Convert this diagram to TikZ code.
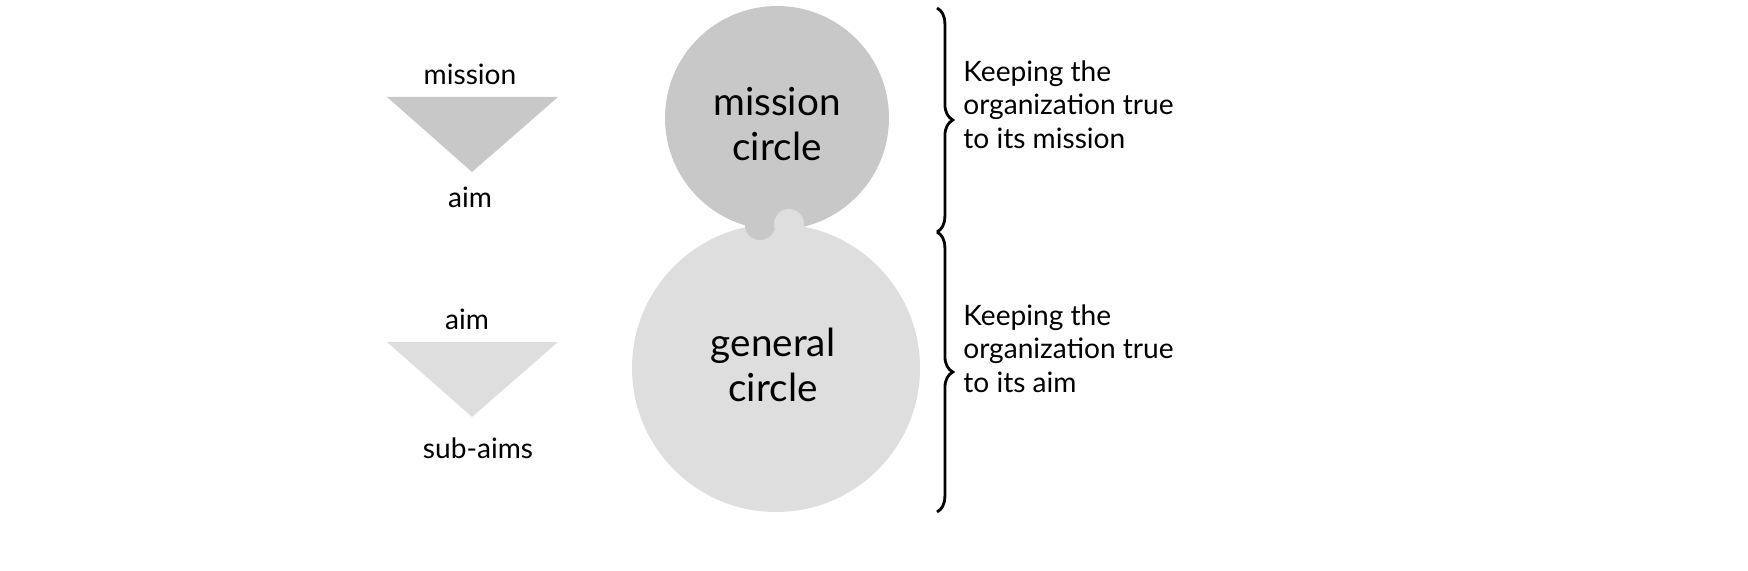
\documentclass[tikz,border=0pt]{standalone}
\usepackage{fontspec}
\setmainfont{Lato}
\usetikzlibrary{decorations.pathreplacing}
\definecolor{darkfill}{HTML}{C8C8C8}
\definecolor{lightfill}{HTML}{DEDEDE}
\begin{document}
\begin{tikzpicture}[x=0.02cm, y=-0.02cm,
    label/.style={font=\fontsize{16pt}{19pt}\selectfont, inner sep=0pt},
    side/.style={font=\fontsize{16pt}{19.3pt}\selectfont, align=left, anchor=north west, inner sep=0pt},
    big/.style={font=\fontsize{22pt}{25.6pt}\selectfont, align=center, inner sep=0pt},
    curly/.style={decorate, decoration={brace, amplitude=9pt}, line width=1.6pt}]
	\useasboundingbox (0,0) rectangle (1748,571);

	\node[circle, fill=lightfill, minimum size=288*0.02cm] (general) at (776,368) {};
	\node[circle, fill=darkfill, minimum size=224*0.02cm] (mission) at (777,118) {};
	\node[circle, fill=darkfill, minimum size=30*0.02cm] (knobA) at (760,225) {};
	\node[circle, fill=lightfill, minimum size=30*0.02cm] (knobB) at (789,224) {};
	\node[big] (missiontxt) at (777,124) {mission\\circle};
	\node[big] (generaltxt) at (773,365) {general\\circle};

	\draw[fill=darkfill, draw=none] (387,97) -- (558,97) -- (472,172) -- cycle;
	\draw[fill=lightfill, draw=none] (387,342) -- (558,342) -- (472,417) -- cycle;

	\node[label] (top1) at (470,74) {mission};
	\node[label] (top2) at (470,197) {aim};
	\node[label] (bot1) at (467,319) {aim};
	\node[label] (bot2) at (478,448) {sub-aims};

	\coordinate (b0) at (937,8);
	\coordinate (b1) at (937,232);
	\coordinate (b2) at (937,512);
	\draw[curly] (b0) -- (b1);
	\draw[curly] (b1) -- (b2);

	\node[side] (aimtxt) at (963,60) {Keeping the\\organization true\\to its mission};
	\node[side] (subtxt) at (963,304) {Keeping the\\organization true\\to its aim};
\end{tikzpicture}
\end{document}
